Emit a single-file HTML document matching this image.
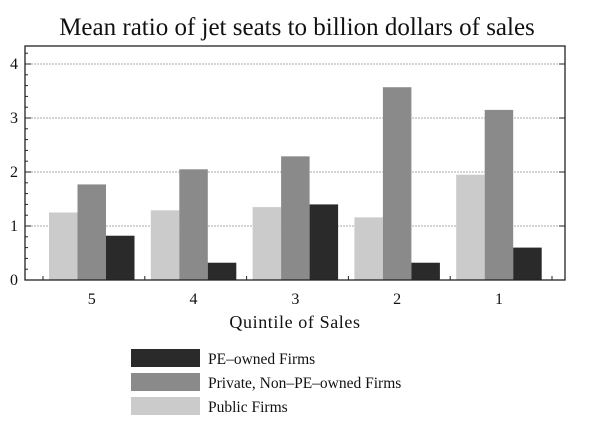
<!DOCTYPE html>
<html><head><meta charset="utf-8"><style>
body{margin:0;background:#fff}
svg{display:block;font-family:"Liberation Serif",serif}
</style></head><body>
<svg id="chart" width="600" height="426">
<text x="297" y="35" font-size="25" text-anchor="middle" fill="#111">Mean ratio of jet seats to billion dollars of sales</text>
<g id="grid"></g>
<g id="bars"></g>
<rect x="25" y="46" width="540" height="234" fill="none" stroke="#222" stroke-width="1.3"/>
<g id="axes"></g>
<text x="295" y="328" font-size="18" letter-spacing="0.6" text-anchor="middle" fill="#111">Quintile of Sales</text>
<g>
<rect x="131" y="349" width="69" height="18" fill="#2a2a2a"/>
<text x="208" y="364" font-size="15.5" fill="#111">PE–owned Firms</text>
<rect x="131" y="373" width="69" height="18" fill="#8a8a8a"/>
<text x="208" y="388" font-size="15.5" fill="#111">Private, Non–PE–owned Firms</text>
<rect x="131" y="397" width="69" height="18" fill="#cbcbcb"/>
<text x="208" y="412" font-size="15.5" fill="#111">Public Firms</text>
</g>
</svg>
<script>
const categories=["5","4","3","2","1"];
const publicVals=[1.25,1.29,1.35,1.16,1.95];
const privateVals=[1.77,2.05,2.29,3.57,3.15];
const peVals=[0.82,0.32,1.40,0.32,0.60];
const yTicks=[0,1,2,3,4];
const NS="http://www.w3.org/2000/svg";
const y0=280,pxPer=54,groupStart=43,groupW=101.8,barW=28.5,barOff=6;
function yScale(v){return y0-v*pxPer;}
function gx(i){return groupStart+i*groupW;}
function mk(tag,attrs,parent){const e=document.createElementNS(NS,tag);for(const k in attrs)e.setAttribute(k,attrs[k]);parent.appendChild(e);return e;}
const grid=document.getElementById('grid'),bars=document.getElementById('bars'),axes=document.getElementById('axes');
yTicks.forEach(t=>{
 if(t>0){const l=mk('line',{x1:25,x2:565,y1:yScale(t),y2:yScale(t),stroke:'#aaa','stroke-dasharray':'2,1'},grid);
 
 }
 const tl=mk('text',{x:14,y:yScale(t)+5,'font-size':16,'text-anchor':'middle',fill:'#111'},axes);tl.textContent=t;
 
 
 mk('line',{x1:25,x2:31,y1:yScale(t),y2:yScale(t),stroke:'#222'},axes);
 mk('line',{x1:559,x2:565,y1:yScale(t),y2:yScale(t),stroke:'#222'},axes);
});
for(let v=0.2;v<4.3;v+=0.2){mk('line',{x1:25,x2:28,y1:yScale(v),y2:yScale(v),stroke:'#222'},axes);}
const series=[[publicVals,'#cbcbcb','public'],[privateVals,'#8a8a8a','private'],[peVals,'#2a2a2a','pe']];
categories.forEach((c,i)=>{
 series.forEach((s,j)=>{
  const v=s[0][i];
  const r=mk('rect',{x:gx(i)+barOff+j*barW,y:yScale(v),width:barW,height:v*pxPer,fill:s[1]},bars);
  
  
 });
 const cx=gx(i)+barOff+1.5*barW;
 const t=mk('text',{x:cx,y:304,'font-size':16,'text-anchor':'middle',fill:'#111'},axes);t.textContent=c;
 
 
});
for(let i=0;i<=categories.length;i++){mk('line',{x1:gx(i),x2:gx(i),y1:280,y2:276,stroke:'#222'},axes);}
</script>
</body></html>
